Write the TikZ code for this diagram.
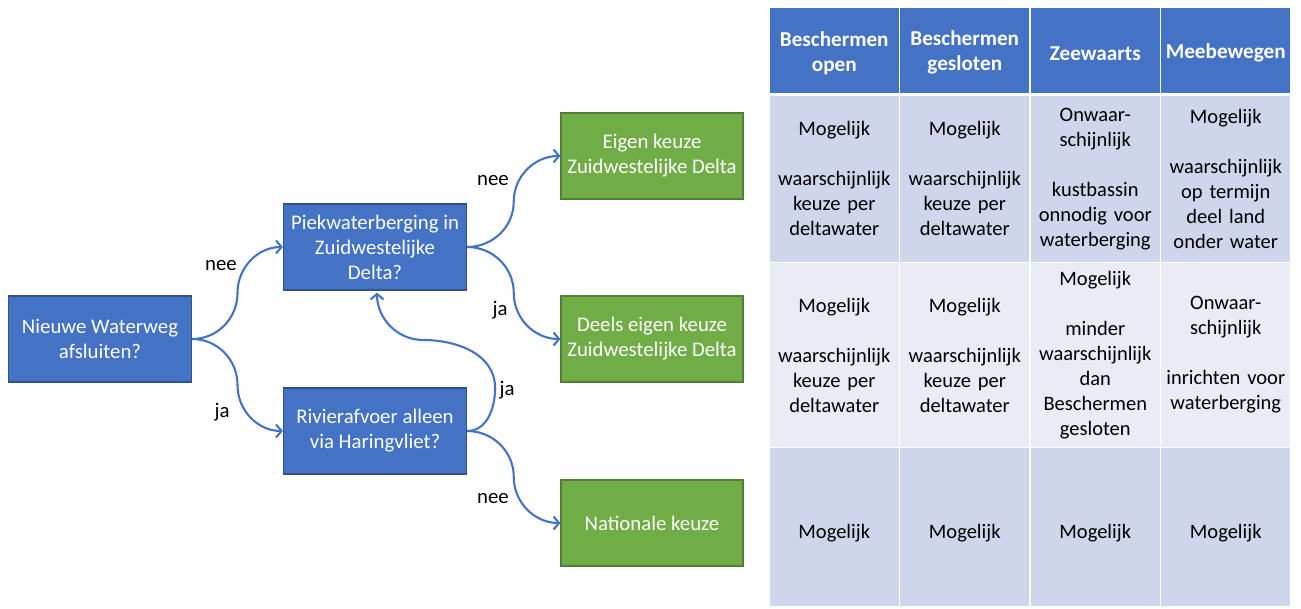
\documentclass[tikz,border=0pt]{standalone}
\usepackage{fontspec}
\setmainfont{Carlito}
\usetikzlibrary{arrows.meta,calc}
\definecolor{qblue}{HTML}{4472C4}
\definecolor{qbluedark}{HTML}{2F528F}
\definecolor{qgreen}{HTML}{70AD47}
\definecolor{qgreendark}{HTML}{507E32}
\definecolor{rowdark}{HTML}{CFD5EA}
\definecolor{rowlight}{HTML}{E9EBF5}
\begin{document}
\begin{tikzpicture}[x=1pt,y=1pt,
  font=\fontsize{20.8}{25}\selectfont,
  question/.style={rectangle, draw=qbluedark, fill=qblue, line width=1.2pt,
    minimum width=183pt, minimum height=86pt, inner sep=0pt, align=center, text=white},
  outcome/.style={rectangle, draw=qgreendark, fill=qgreen, line width=1.2pt,
    minimum width=182pt, minimum height=86pt, inner sep=0pt, align=center, text=white},
  conn/.style={draw=qblue, line width=2.1pt,
    -{Straight Barb[length=5.5pt,width=13pt,line width=2.1pt]}},
  answer/.style={inner sep=0pt, text=black},
  cell/.style={rectangle, draw=white, line width=1.5pt, minimum width=130.5pt,
    inner sep=0pt, align=center, text width=127pt, font=\fontsize{20.5}{25}\selectfont},
  headcell/.style={cell, fill=qblue, text=white, font=\fontsize{21.2}{25}\selectfont\bfseries,
    minimum height=86.5pt, text height=19pt},
  rowone/.style={cell, fill=rowdark, minimum height=167.5pt},
  rowtwo/.style={cell, fill=rowlight, minimum height=185pt},
  rowthree/.style={cell, fill=rowdark, minimum height=159pt, text height=26pt, text depth=4pt},
]
\useasboundingbox (0,0) rectangle (1301,608);

% decision tree
\node[question] (A) at (100,269) {Nieuwe Waterweg\\afsluiten?};
\node[question] (B) at (375,361) {Piekwaterberging in\\Zuidwestelijke\\Delta?};
\node[question] (C) at (375,177) {Rivierafvoer alleen\\via Haringvliet?};
\node[outcome] (D) at (652,452) {Eigen keuze\\Zuidwestelijke Delta};
\node[outcome] (E) at (652,269) {Deels eigen keuze\\Zuidwestelijke Delta};
\node[outcome] (F) at (652,85) {Nationale keuze};

\coordinate (ab) at ($(A.east)!0.5!(B.west)$);
\coordinate (ac) at ($(A.east)!0.5!(C.west)$);
\coordinate (bd) at ($(B.east)!0.5!(D.west)$);
\coordinate (be) at ($(B.east)!0.5!(E.west)$);
\coordinate (cf) at ($(C.east)!0.5!(F.west)$);
\coordinate (cb1) at ($(C.east)+(28,43)$);
\coordinate (cb2) at ($(C.east)+(-44,91)$);
\coordinate (bs) at ($(B.south)+(2,-2)$);

\draw[conn] (A.east) to[out=0,in=-90] (ab) to[out=90,in=180] (B.west);
\draw[conn] (A.east) to[out=0,in=90] (ac) to[out=-90,in=180] (C.west);
\draw[conn] (B.east) to[out=0,in=-90] (bd) to[out=90,in=180] (D.west);
\draw[conn] (B.east) to[out=0,in=90] (be) to[out=-90,in=180] (E.west);
\draw[conn] (C.east) to[out=0,in=90] (cf) to[out=-90,in=180] (F.west);
\draw[conn] (C.east) to[out=0,in=-90] (cb1) to[out=90,in=0] (cb2) to[out=180,in=-90] (bs);

\node[answer] (l1) at (221,342) {nee};
\node[answer] (l2) at (222,196) {ja};
\node[answer] (l3) at (493,427) {nee};
\node[answer] (l4) at (500,298) {ja};
\node[answer] (l5) at (507,218) {ja};
\node[answer] (l6) at (493,109) {nee};

% table of strategies
\node[headcell] (h1) at (834.25,557.25) {Beschermen\\open};
\node[headcell] (h2) at (964.75,557.25) {Beschermen\\gesloten};
\node[headcell] (h3) at (1095.25,557.25) {Zeewaarts};
\node[headcell] (h4) at (1225.75,557.25) {Meebewegen};

\node[rowone] (r11) at (834.25,429.25) {Mogelijk\\[25pt]waarschijnlijk\\keuze per\\deltawater};
\node[rowone] (r12) at (964.75,429.25) {Mogelijk\\[25pt]waarschijnlijk\\keuze per\\deltawater};
\node[rowone] (r13) at (1095.25,429.25) {Onwaar-\\schijnlijk\\[25pt]kustbassin\\onnodig voor\\waterberging};
\node[rowone] (r14) at (1225.75,429.25) {Mogelijk\\[25pt]waarschijnlijk\\op termijn\\deel land\\onder water};

\node[rowtwo] (r21) at (834.25,253) {Mogelijk\\[25pt]waarschijnlijk\\keuze per\\deltawater};
\node[rowtwo] (r22) at (964.75,253) {Mogelijk\\[25pt]waarschijnlijk\\keuze per\\deltawater};
\node[rowtwo] (r23) at (1095.25,253) {Mogelijk\\[25pt]minder\\waarschijnlijk\\dan\\Beschermen\\gesloten};
\node[rowtwo] (r24) at (1225.75,253) {Onwaar-\\schijnlijk\\[25pt]inrichten voor\\waterberging};

\node[rowthree] (r31) at (834.25,81) {Mogelijk};
\node[rowthree] (r32) at (964.75,81) {Mogelijk};
\node[rowthree] (r33) at (1095.25,81) {Mogelijk};
\node[rowthree] (r34) at (1225.75,81) {Mogelijk};
\end{tikzpicture}
\end{document}
